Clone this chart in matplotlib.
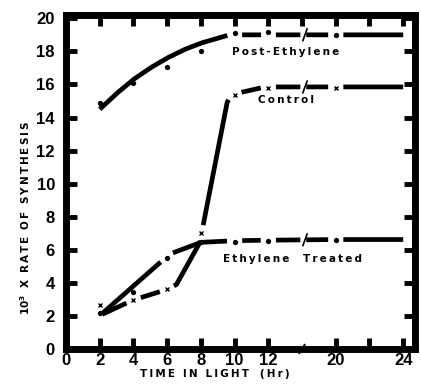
import numpy as np
import matplotlib
matplotlib.use("Agg")
import matplotlib.pyplot as plt

plt.rcParams['font.family'] = ['DejaVu Sans']
plt.rcParams['mathtext.default'] = 'regular'

# measured points (hours in light, 10^3 x rate of synthesis)
hours = [2, 4, 6, 8, 10, 12, 20]
post_pts = [14.9, 16.1, 17.05, 18.05, 19.1, 19.15, 19.0]
ctrl_pts = [2.65, 2.97, 3.6, 7.0, 15.35, 15.8, 15.8]
eth_pts = [2.2, 3.42, 5.5, 6.45, 6.5, 6.55, 6.62]

# hand drawn curves through the points
post_t = [2, 3, 4, 5, 6, 7, 8, 9, 9.7, 12, 20, 24]
post_v = [14.5, 15.45, 16.3, 17.0, 17.6, 18.1, 18.5, 18.8, 19.0, 19.0, 19.0, 19.0]
ctrl_t = [2.15, 4, 5.67, 6, 6.55, 7.95, 8.1, 9.55, 9.8, 10.3, 11.6, 12, 20, 24]
ctrl_v = [2.1, 2.97, 3.5, 3.6, 3.9, 6.45, 7.3, 14.9, 15.35, 15.5, 15.8, 15.85, 15.85, 15.85]
eth_t = [2.15, 5.6, 6, 6.3, 8, 9, 10, 12, 20, 24]
eth_v = [2.15, 5.25, 5.55, 5.8, 6.45, 6.5, 6.55, 6.58, 6.62, 6.62]

# where the drawn line is interrupted around a point
post_gaps = [10, 12, 20]
ctrl_gaps = [4, 6, 8, 10, 12, 20]
eth_gaps = [6, 10, 12, 20]

xtick_hours = [0, 2, 4, 6, 8, 10, 12, 20, 22, 24]
xtick_labels = ['0', '2', '4', '6', '8', '10', '12', '20', '', '24']
yticks = [0, 2, 4, 6, 8, 10, 12, 14, 16, 18, 20]

BREAK = (13.9, 14.25)   # broken axis between 12 and 20 hr
PX = (16.85, 16.53)     # px per unit, for round gaps
FRAME = 5.0


def to_p(t):
    # 20 hr sits where 16 would be
    t = np.asarray(t, dtype=float)
    return np.where(t > 12, t - 4, t)


def spaced(s):
    return '\u2009'.join(s)


fig = plt.figure(figsize=(4.21, 3.92), dpi=100)
ax = fig.add_axes([66/421, 1 - 349/392, (415 - 66)/421, (349 - 15)/392])
ax.set_xlim(0, 20.7)
ax.set_ylim(0, 20.2)


def draw_series(kt, kv, pts, gaps, marker, ms, mew):
    kp = to_p(kt)
    kv = np.asarray(kv, dtype=float)
    xs, ys = [], []
    for i in range(len(kp) - 1):
        f = np.linspace(0, 1, 80, endpoint=False)
        xs.append(kp[i] + f*(kp[i+1] - kp[i]))
        ys.append(kv[i] + f*(kv[i+1] - kv[i]))
    xs.append([kp[-1]]); ys.append([kv[-1]])
    xs = np.concatenate(xs); ys = np.concatenate(ys)
    hp = to_p(hours)
    for g in gaps:
        j = hours.index(g)
        d = np.hypot((xs - hp[j])*PX[0], (ys - pts[j])*PX[1])
        ys = np.where(d < 7.5, np.nan, ys)
    ys = np.where((xs > BREAK[0]) & (xs < BREAK[1]), np.nan, ys)
    ax.plot(xs, ys, color='black', lw=3.4, solid_capstyle='butt', zorder=3)
    yb = np.interp(BREAK[1], kp, kv)
    ax.plot([BREAK[1] - 0.2, BREAK[1] + 0.05], [yb - 0.35, yb + 0.35],
            color='black', lw=1.2, zorder=3)
    ax.plot(hp, pts, ls='none', marker=marker, color='black', ms=ms,
            mew=mew, zorder=4)


draw_series(post_t, post_v, post_pts, post_gaps, 'o', 3.8, 0)
draw_series(ctrl_t, ctrl_v, ctrl_pts, ctrl_gaps, 'x', 3.0, 1.0)
draw_series(eth_t, eth_v, eth_pts, eth_gaps, 'o', 3.8, 0)

lab = dict(fontsize=7.5, fontweight='bold', va='center', ha='left')
ax.text(9.85, 17.97, spaced('Post-Ethylene'), **lab)
ax.text(11.4, 15.06, spaced('Control'), **lab)
ax.text(9.32, 5.44, spaced('Ethylene  Treated'), **lab)

# axes frame, all four sides drawn by hand (bottom has the break)
for s in ax.spines.values():
    s.set_visible(False)
fx = ax.get_xaxis_transform()
fy = ax.get_yaxis_transform()
frame = dict(color='black', lw=FRAME, clip_on=False, solid_capstyle='projecting', zorder=6)
ax.plot([0, BREAK[0] - 0.15], [0, 0], transform=fx, **frame)
ax.plot([BREAK[1] - 0.1, 20.7], [0, 0], transform=fx, **frame)
ax.plot([0, 20.7], [1, 1], transform=fx, **frame)
ax.plot([0, 0], [0, 20.2], transform=fy, **frame)
ax.plot([1, 1], [0, 20.2], transform=fy, **frame)
ax.plot([BREAK[0] - 0.05, BREAK[1] - 0.1], [-0.012, 0.012], color='black',
        lw=1.5, transform=fx, clip_on=False, zorder=6)

tickfont = dict(family=['Liberation Sans', 'DejaVu Sans'],
                weight='bold', size=12)
ax.set_xticks(to_p(xtick_hours))
ax.set_xticklabels(xtick_labels, fontdict=tickfont)
ax.set_yticks(yticks)
ax.set_yticklabels([str(v) for v in yticks], fontdict=tickfont)
ax.tick_params(direction='in', length=8, width=3.5, right=True)
ax.tick_params(axis='x', pad=3)
ax.tick_params(axis='y', pad=8)

sec = ax.secondary_xaxis('top')
sec.set_xticks(np.arange(2, 21, 2))
sec.set_xticklabels([])
sec.tick_params(direction='in', length=8, width=3.5)
sec.spines['top'].set_visible(False)

fig.text(215/421, 1 - 374/392, spaced('TIME IN LIGHT') + '   ' + spaced('(Hr)'),
         fontsize=7.5, fontweight='bold', ha='center', va='center')
fig.text(25/421, 1 - 218/392,
         '10$^3$  ' + spaced('X') + '  ' + spaced('RATE') + '  ' + spaced('OF') + '  ' + spaced('SYNTHESIS'),
         fontsize=7.5, fontweight='bold', ha='center', va='center', rotation=90)

fig.savefig('out.png', dpi=100)
